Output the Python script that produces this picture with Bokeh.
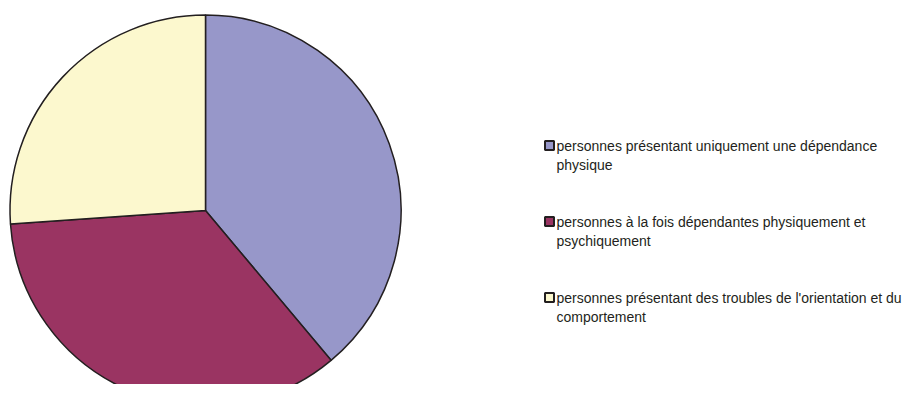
import math
from bokeh.plotting import figure
from bokeh.models import Range1d, ColumnDataSource
from bokeh.core.properties import value
from bokeh.embed import file_html
from bokeh.resources import INLINE

# Data
labels = [
    "personnes présentant uniquement une dépendance\nphysique",
    "personnes à la fois dépendantes physiquement et\npsychiquement",
    "personnes présentant des troubles de l'orientation et du\ncomportement",
]
shares = [38.9, 35.0, 26.1]
colors = ["#9797C9", "#9A3462", "#FCF8CE"]

W, H = 902, 384
p = figure(width=W, height=H, output_backend="svg", toolbar_location=None,
           x_range=Range1d(0, W), y_range=Range1d(0, H), min_border=0)
p.axis.visible = False
p.grid.visible = False
p.outline_line_color = None
p.background_fill_color = "white"

# pie geometry (pixels; y up)
cx, cy, r = 205, H - 210, 195.5
total = sum(shares)
starts, ends = [], []
cum = 0.0
for s in shares:
    a0 = math.pi / 2 - 2 * math.pi * (cum + s) / total
    a1 = math.pi / 2 - 2 * math.pi * cum / total
    starts.append(a0)
    ends.append(a1)
    cum += s
src = ColumnDataSource(dict(start=starts, end=ends, color=colors))
p.wedge(x=cx, y=cy, radius=r, start_angle="start", end_angle="end",
        fill_color="color", line_color="#231F20", line_width=1.5, source=src)

# legend
lx, ly0, step = 549, H - 145, 76
line_gap = 19
sq_x, sq_y, l1x, l1y, l2x, l2y, l1t, l2t = [], [], [], [], [], [], [], []
for i, lab in enumerate(labels):
    parts = lab.split("\n")
    y = ly0 - i * step
    sq_x.append(lx)
    sq_y.append(y)
    l1t.append(parts[0])
    l2t.append(parts[1] if len(parts) > 1 else "")
    l1x.append(lx + 7)
    l1y.append(y)
    l2x.append(lx + 7)
    l2y.append(y - line_gap)
p.rect(x=sq_x, y=sq_y, width=9, height=9, fill_color=colors,
       line_color="#231F20", line_width=2)
p.text(x=l1x, y=l1y, text=l1t, text_font=value("Liberation Sans"),
       text_font_size="14px", text_baseline="middle", text_align="left",
       text_color="#231F20")
p.text(x=l2x, y=l2y, text=l2t, text_font=value("Liberation Sans"),
       text_font_size="14px", text_baseline="middle", text_align="left",
       text_color="#231F20")

open("out.html", "w").write(file_html(p, INLINE))
